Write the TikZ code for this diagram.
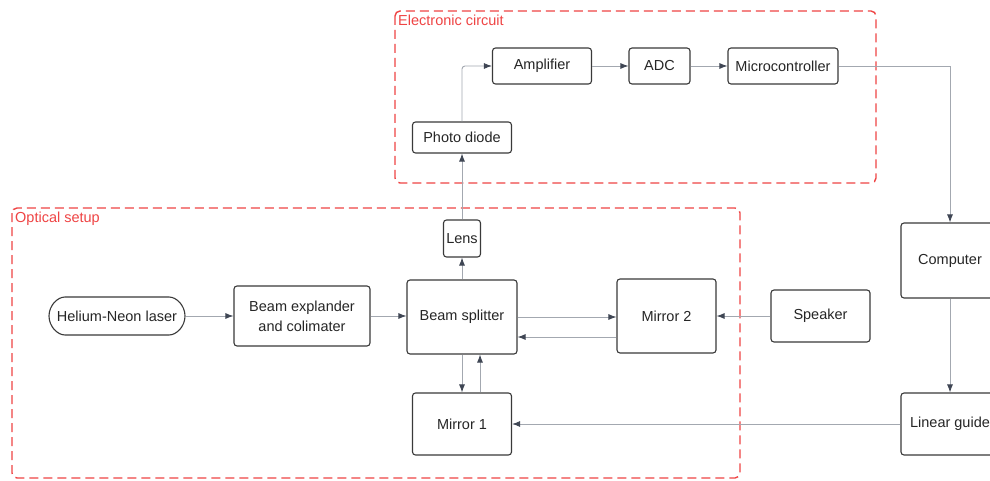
\documentclass[tikz,border=0pt]{standalone}
\usepackage{fontspec}
\setmainfont{Liberation Sans}
\usepackage{xcolor}
\usepackage{tikz}
\usetikzlibrary{arrows.meta, shapes.misc}

\definecolor{boxline}{HTML}{3A3A3A}
\definecolor{wire}{HTML}{A3A8B0}
\definecolor{tipcol}{HTML}{3F4654}
\definecolor{groupred}{HTML}{EF4444}

\begin{document}
\begin{tikzpicture}[x=1pt, y=-1pt,
  every node/.style={font=\fontsize{14.5}{20}\selectfont, text=black!85},
  block/.style={draw=boxline, line width=1.1pt, rounded corners=3pt, align=center, inner sep=0},
  pill/.style={block, rounded rectangle},
  group/.style={draw=groupred, line width=1.4pt, dash pattern=on 9pt off 5pt, rounded corners=5pt},
  grouplabel/.style={text=groupred, anchor=north west, inner sep=0},
  link/.style={draw=wire, line width=0.9pt, -{Latex[length=8pt, width=6pt, color=tipcol]}}]

  \fill[white] (0,0) rectangle (990,481);
  \useasboundingbox (0,0) rectangle (990,481);

  % Groups
  \draw[group] (395,11) rectangle (876,183);
  \node[grouplabel] (elec) at (398,15) {Electronic circuit};
  \draw[group] (12,208) rectangle (740,478);
  \node[grouplabel] (optic) at (15,212) {Optical setup};

  % Electronic circuit
  \node[block, minimum width=99pt, minimum height=36pt] (amp) at (542,66) {Amplifier};
  \node[block, minimum width=61pt, minimum height=36pt] (adc) at (659.5,66) {ADC};
  \node[block, minimum width=110pt, minimum height=36pt] (mcu) at (783,66) {Microcontroller};
  \node[block, minimum width=99pt, minimum height=31pt] (diode) at (462,137.5) {Photo diode};

  % Optical setup
  \node[block, minimum width=37pt, minimum height=37pt] (lens) at (462,238.5) {Lens};
  \node[pill, minimum width=136pt, minimum height=38pt] (laser) at (117,316) {Helium-Neon laser};
  \node[block, minimum width=136pt, minimum height=60pt] (expander) at (302,316) {Beam explander\\and colimater};
  \node[block, minimum width=110pt, minimum height=74pt] (splitter) at (462,317) {Beam splitter};
  \node[block, minimum width=99pt, minimum height=74pt] (mirrortwo) at (666.5,316) {Mirror 2};
  \node[block, minimum width=99pt, minimum height=62pt] (mirrorone) at (462,424) {Mirror 1};

  % Outside
  \node[block, minimum width=99pt, minimum height=52pt] (speaker) at (820.5,316) {Speaker};
  \node[block, minimum width=98pt, minimum height=75pt] (computer) at (950,260.5) {Computer};
  \node[block, minimum width=98pt, minimum height=62pt] (guide) at (950,424) {Linear guide};

  % Connectors
  \draw[link] (laser.east) -- (expander.west);
  \draw[link] (expander.east) -- (expander.east -| splitter.west);
  \draw[link] (splitter.north) -- (lens.south);
  \draw[link] (lens.north) -- (diode.south);
  \draw[link, rounded corners=3pt] (diode.north) |- (amp.west);
  \draw[link] (amp.east) -- (adc.west);
  \draw[link] (adc.east) -- (mcu.west);
  \draw[link] (mcu.east) -| (computer.north);
  \draw[link] (computer.south) -- (guide.north);
  \draw[link] (guide.west) -- (mirrorone.east);
  \draw[link] (speaker.west) -- (mirrortwo.east);
  \draw[link] (splitter.east) -- (splitter.east -| mirrortwo.west);
  \draw[link] ([yshift=-21pt]mirrortwo.west) -- ([yshift=-21pt]mirrortwo.west -| splitter.east);
  \draw[link] (splitter.south) -- (mirrorone.north);
  \draw[link] ([xshift=18pt]mirrorone.north) -- ([xshift=18pt]mirrorone.north |- splitter.south);
\end{tikzpicture}
\end{document}
